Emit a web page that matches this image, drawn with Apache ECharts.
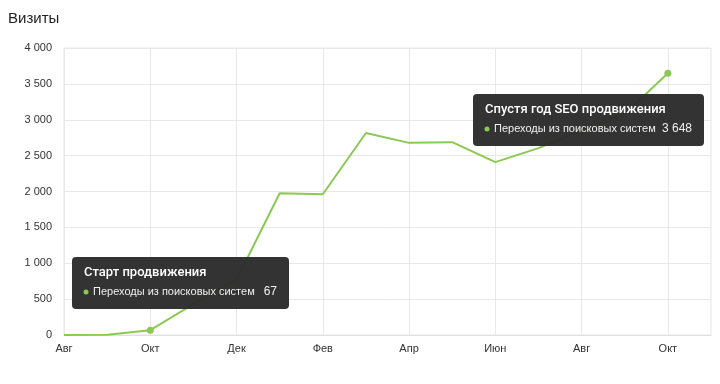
<!DOCTYPE html>
<html>
<head>
<meta charset="utf-8">
<script src="https://cdn.jsdelivr.net/npm/echarts@6/dist/echarts.min.js"></script>
<style>
html,body{margin:0;padding:0;background:#fff;}
#chart{width:720px;height:384px;}
</style>
</head>
<body>
<div id="chart"></div>
<script>
var titleText = 'Визиты';
var months = ['Авг','Сен','Окт','Ноя','Дек','Янв','Фев','Мар','Апр','Май','Июн','Июл','Авг','Сен','Окт','Ноя'];
var visits = [0, 5, 67, 430, 770, 1975, 1962, 2815, 2678, 2688, 2410, 2605, 2850, 3080, 3648, null];
var seriesName = 'Переходы из поисковых систем';
var yTicks = [0, 500, 1000, 1500, 2000, 2500, 3000, 3500, 4000];
var noteTitles = ['Старт продвижения', 'Спустя год SEO продвижения'];
var noteIndices = [2, 14];

var GREEN = '#8bc953';
var FONT = 'Arial, "Liberation Sans", sans-serif';
var TFONT = 'Roboto, Arial, sans-serif';

function fmt(v) { return String(v).replace(/\B(?=(\d{3})+(?!\d))/g, ' '); }

var seriesData = visits.map(function (v, i) {
  if (noteIndices.indexOf(i) >= 0) {
    return { value: v, symbol: 'circle', symbolSize: 7 };
  }
  return v;
});

function noteBox(x, y, w, h, title, value) {
  return {
    type: 'group', x: x, y: y,
    children: [
      { type: 'rect', z: 100, shape: { x: 0, y: 0, width: w, height: h, r: 4 },
        style: { fill: 'rgba(44,44,44,0.97)' } },
      { type: 'text', z: 101, x: 12, y: 16,
        style: { text: title, fill: '#fff', font: '500 13px ' + TFONT, textVerticalAlign: 'middle' } },
      { type: 'circle', z: 101, shape: { cx: 14, cy: 35, r: 2.5 }, style: { fill: GREEN } },
      { type: 'text', z: 101, x: 21, y: 35,
        style: { text: seriesName, fill: '#f0f0f0', font: '11px ' + FONT, textVerticalAlign: 'middle' } },
      { type: 'text', z: 101, x: w - 12, y: 35,
        style: { text: fmt(value), fill: '#f0f0f0', font: '12px ' + FONT, textAlign: 'right', textVerticalAlign: 'middle' } }
    ]
  };
}

var chart = echarts.init(document.getElementById('chart'), null, { renderer: 'canvas' });
chart.setOption({
  animation: false,
  backgroundColor: '#fff',
  textStyle: { fontFamily: FONT },
  title: {
    text: titleText, left: 3, top: 6,
    textStyle: { fontSize: 15, fontWeight: 'normal', color: '#222', fontFamily: FONT }
  },
  grid: { left: 64, right: 9, top: 48, bottom: 49, show: true, borderColor: '#e6e6e6', borderWidth: 1 },
  xAxis: {
    type: 'category',
    data: months,
    boundaryGap: false,
    axisLine: { lineStyle: { color: '#e0e0e0' } },
    axisTick: { show: false },
    axisLabel: { interval: 1, color: '#333', fontSize: 11, margin: 8, fontFamily: FONT },
    splitLine: { show: true, interval: 1, lineStyle: { color: '#e8e8e8' } }
  },
  yAxis: {
    type: 'value',
    min: yTicks[0], max: yTicks[yTicks.length - 1], interval: yTicks[1] - yTicks[0],
    axisLine: { show: false },
    axisTick: { show: false },
    axisLabel: { color: '#333', fontSize: 11, margin: 12, fontFamily: FONT, formatter: function (v) { return fmt(v); } },
    splitLine: { lineStyle: { color: '#e8e8e8' } }
  },
  series: [{
    type: 'line',
    name: seriesName,
    data: seriesData,
    symbol: 'none',
    lineStyle: { color: GREEN, width: 2 },
    itemStyle: { color: GREEN },
    z: 3
  }],
  graphic: [
    noteBox(72, 257, 217, 52, noteTitles[0], visits[noteIndices[0]]),
    noteBox(473, 94, 231, 52, noteTitles[1], visits[noteIndices[1]])
  ]
});
</script>
</body>
</html>
